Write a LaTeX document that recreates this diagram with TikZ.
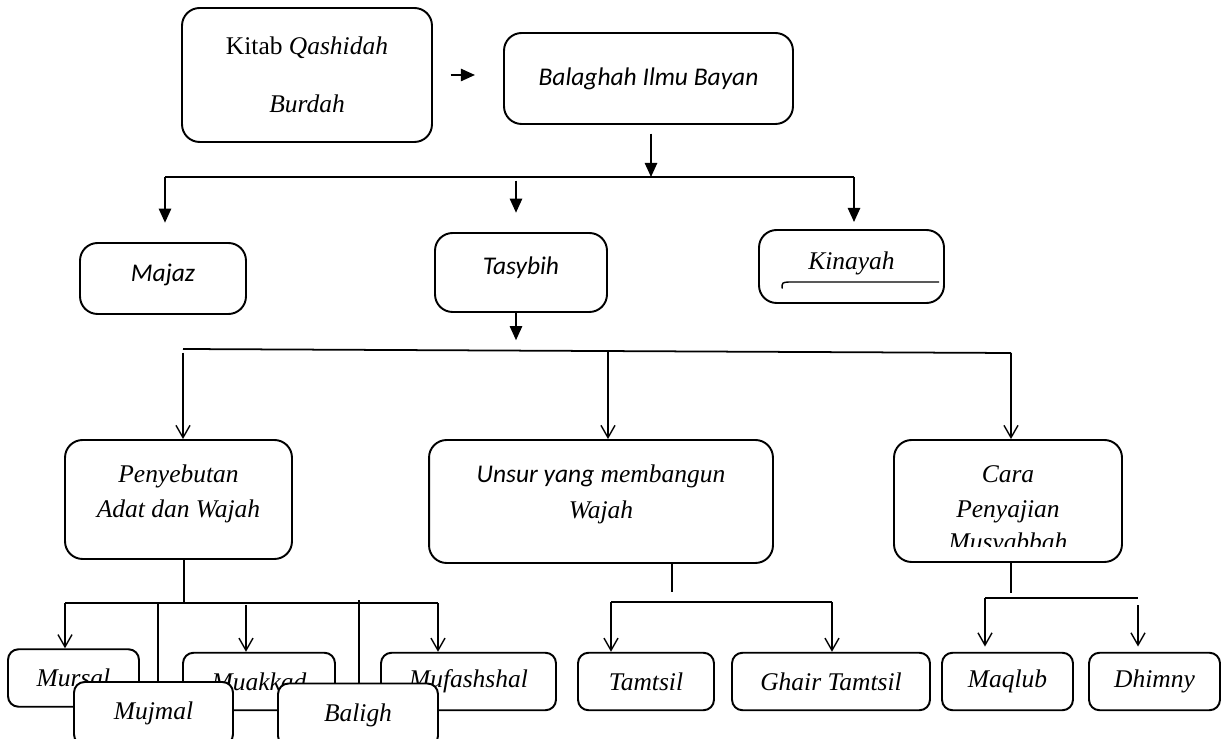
\documentclass[tikz,border=0pt]{standalone}
\usepackage{fontspec}
\setmainfont{Liberation Serif}
\newfontfamily\calib{Carlito}
\usetikzlibrary{arrows.meta}

\tikzset{box/.style={draw, fill=white, line width=1.1pt, rounded corners=10pt, inner sep=2pt}}
\tikzset{ leaf/.style={box, rounded corners=6pt, minimum height=1.15cm, font=\fontsize{14.5}{17}\selectfont\itshape}}
\tikzset{ fillarrow/.style={-{Triangle[length=8pt,width=7pt]}, line width=1pt}}
\tikzset{ openarrow/.style={-{Straight Barb[length=7pt,width=8pt]}, line width=0.8pt}}
\tikzset{ bus/.style={line width=1pt}}

\newcommand{\lift}[2]{\raisebox{#1}[\height][\depth]{#2}}
\newcommand{\lines}[1]{\begin{tabular}{@{}c@{}}#1\end{tabular}}

\begin{document}
\begin{tikzpicture}[x=0.02cm, y=-0.02cm, every node/.style={align=center, font=\fontsize{14.5}{17}\selectfont}]
  \useasboundingbox (0,0) rectangle (1221,739);
  \clip (0,0) rectangle (1221,739);
      % Top
  \node[box, minimum width=5.00cm, minimum height=2.68cm] (Kitab) at (307,75) {Kitab \textit{Qashidah}\\[16pt]\textit{Burdah}};
  \node[box, minimum width=5.78cm, minimum height=1.82cm] (Balaghah) at (648.5,78.5) {\calib\itshape Balaghah Ilmu Bayan};

  \node[box, minimum width=3.32cm, minimum height=1.42cm] (Majaz) at (163,278.5) {\lift{2pt}{\calib\itshape Majaz}};
  \node[box, minimum width=3.44cm, minimum height=1.58cm] (Tasybih) at (521,272.5) {\lift{3pt}{\calib\itshape Tasybih}};
  \node[box, minimum width=3.70cm, minimum height=1.46cm] (Kinayah) at (851.5,266.5) {\lift{2pt}{\itshape Kinayah}};
  \draw[line width=0.8pt] ([shift={(24,22)}]Kinayah.west) .. controls ([shift={(24,16)}]Kinayah.west) .. ([shift={(31,15.5)}]Kinayah.west) -- ([shift={(181,15.5)}]Kinayah.west);

      % Tasybih kinds
  \node[box, minimum width=4.54cm, minimum height=2.38cm, font=\fontsize{14.5}{17}\selectfont\itshape] (Penyebutan) at (178.5,499.5) {\lift{3pt}{\lines{Penyebutan\\[3pt]Adat dan Wajah}}};
  \node[box, minimum width=6.88cm, minimum height=2.46cm, font=\fontsize{14.5}{17}\selectfont\itshape] (Unsur) at (601,501.5) {\lift{4pt}{\lines{{\calib Unsur yang} membangun\\[3pt]Wajah}}};
  \node[box, minimum width=4.56cm, minimum height=2.44cm, font=\fontsize{14.5}{17}\selectfont\itshape] (Cara) at (1008,501) {\lift{4pt}{\lines{Cara\\[3pt]Penyajian}}};
  \begin{scope}
    \clip (894,440) rectangle (1122,547);
    \node[font=\fontsize{14.5}{17}\selectfont\itshape] (Musyabbah) at (1008,544) {Musyabbah};
  \end{scope}

      % Leaves
  \node[leaf, minimum width=2.62cm] (Mursal) at (73.5,678) {Mursal};
  \node[leaf, minimum width=3.04cm] (Muakkad) at (259,681.5) {Muakkad};
  \node[leaf, minimum width=3.50cm] (Mufashshal) at (468.5,681.5) {Mufashshal};
  \node[leaf, minimum width=3.18cm, minimum height=1.26cm] (Mujmal) at (153.5,713.5) {Mujmal};
  \node[leaf, minimum width=3.20cm, minimum height=1.26cm] (Baligh) at (358,715) {Baligh};
  \node[leaf, minimum width=2.72cm] (Tamtsil) at (646,681.5) {Tamtsil};
  \node[leaf, minimum width=3.96cm] (Ghair) at (831,681.5) {Ghair Tamtsil};
  \node[leaf, minimum width=2.62cm] (Maqlub) at (1007.5,681.5) {Maqlub};
  \node[leaf, minimum width=2.62cm] (Dhimny) at (1154.5,681.5) {Dhimny};

  \coordinate (TopBus) at (651,177);
  \coordinate (TopBusL) at (165,177);
  \coordinate (TopBusM) at (516,177);
  \coordinate (TopBusR) at (854,177);
  \coordinate (MidBusL) at (183,349);
  \coordinate (MidBusM) at (608,351);
  \coordinate (MidBusR) at (1011,353);
  \coordinate (PenBus) at (184,603);
  \coordinate (PenBusL) at (65,603);
  \coordinate (PenBusR) at (438,603);
  \coordinate (UnsBus) at (672,592);
  \coordinate (UnsBusL) at (611,602);
  \coordinate (UnsBusR) at (832,602);
  \coordinate (CarBus) at (1011,593);
  \coordinate (CarBusL) at (985,598);
  \coordinate (CarBusR) at (1138,598);

  \draw[fillarrow, shorten <=10pt, shorten >=16pt] (Kitab.east) to (Kitab.east -| Balaghah.west);
  \draw[fillarrow, shorten <=5pt] (TopBus |- Balaghah.south) to (TopBus);
  \draw[bus] (TopBusL) to (TopBusR);
  \draw[fillarrow, shorten >=11pt] (TopBusL) to (TopBusL |- Majaz.north);
  \draw[fillarrow, shorten <=2pt, shorten >=11pt] (TopBusM) to (TopBusM |- Tasybih.north);
  \draw[fillarrow, shorten >=4pt] (TopBusR) to (TopBusR |- Kinayah.north);

  \draw[fillarrow, shorten >=5pt] (TopBusM |- Tasybih.south) to (TopBusM |- MidBusL);
  \draw[bus] (MidBusL) to (MidBusR);
  \draw[openarrow] ([yshift=-2pt]MidBusL) to (MidBusL |- Penyebutan.north);
  \draw[openarrow] (MidBusM) to (MidBusM |- Unsur.north);
  \draw[openarrow] (MidBusR) to (MidBusR |- Cara.north);

  \draw[bus] (PenBus |- Penyebutan.south) to (PenBus);
  \draw[bus] (PenBusL) to (PenBusR);
  \draw[openarrow] (PenBusL) to (PenBusL |- Mursal.north);
  \draw[bus] (Mujmal.north -| 158,0) to (158,603);
  \draw[openarrow] (246,605) to (Muakkad.north -| 246,0);
  \draw[bus] (Baligh.north -| 359,0) to (359,600);
  \draw[openarrow] (PenBusR) to (PenBusR |- Mufashshal.north);

  \draw[bus] (UnsBus |- Unsur.south) to (UnsBus);
  \draw[bus] (UnsBusL) to (UnsBusR);
  \draw[openarrow] (UnsBusL) to (UnsBusL |- Tamtsil.north);
  \draw[openarrow] (UnsBusR) to (UnsBusR |- Ghair.north);

  \draw[bus] (CarBus |- Cara.south) to (CarBus);
  \draw[bus] (CarBusL) to (CarBusR);
  \draw[openarrow, shorten >=3pt] (CarBusL) to (CarBusL |- Maqlub.north);
  \draw[openarrow, shorten <=4pt, shorten >=3pt] (CarBusR) to (CarBusR |- Dhimny.north);
\end{tikzpicture}
\end{document}
